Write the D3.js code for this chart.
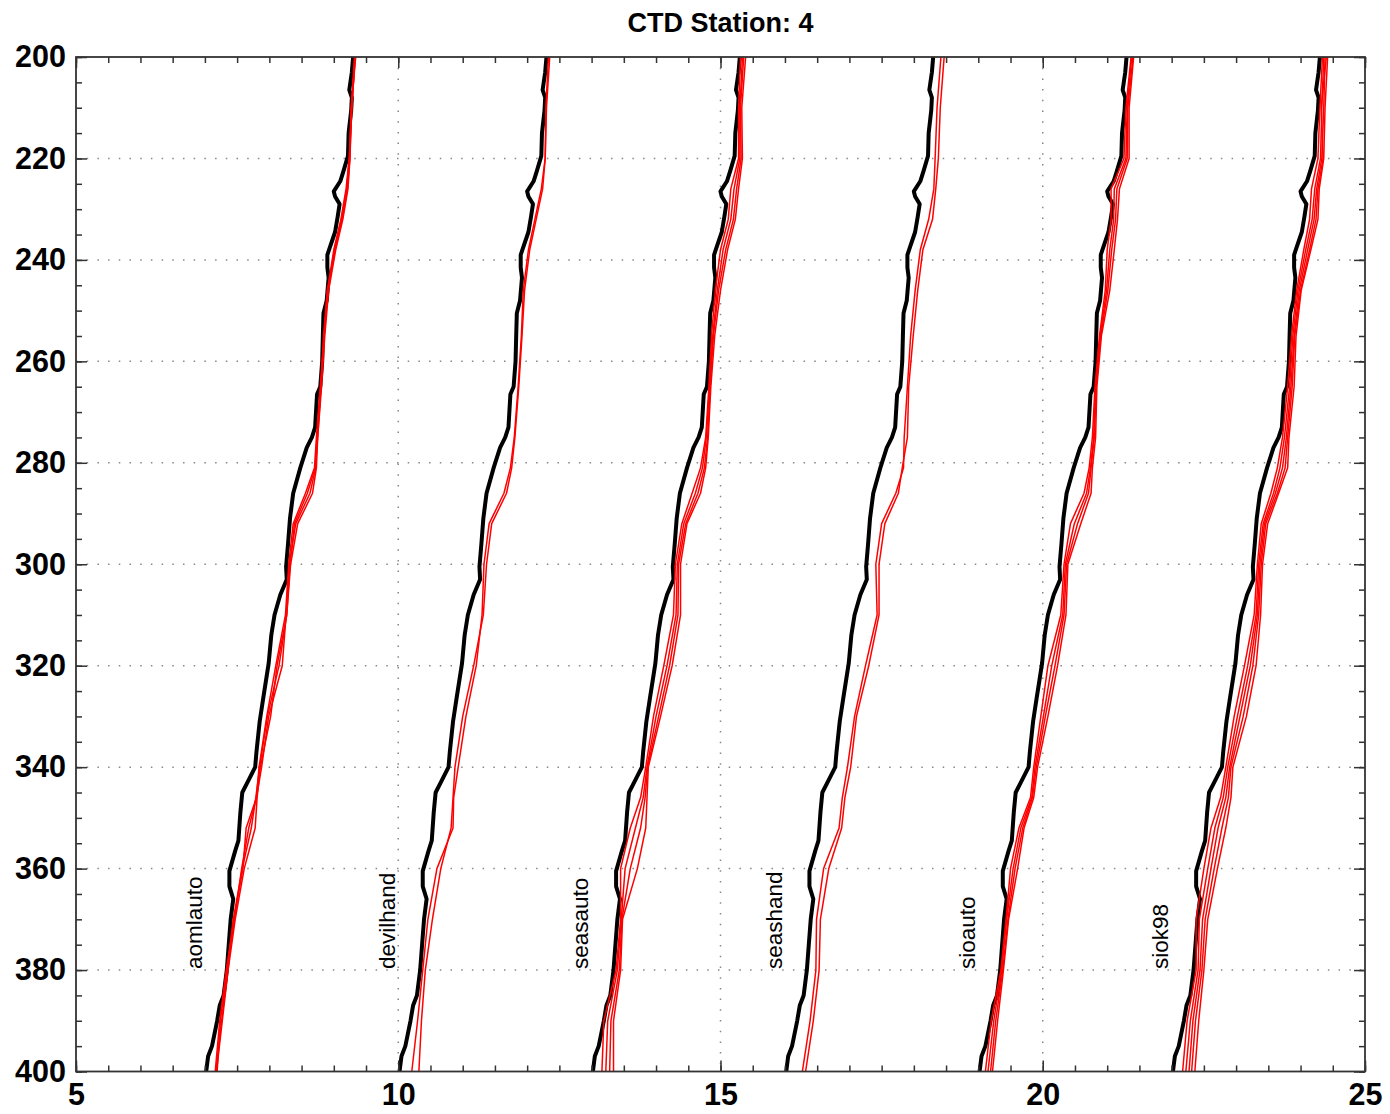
<!DOCTYPE html>
<html>
<head>
<meta charset="utf-8">
<script src="https://cdn.jsdelivr.net/npm/d3@7/dist/d3.min.js"></script>
<style>
  body { margin: 0; background: #fff; }
</style>
</head>
<body>
<div id="ctd_station"></div>
<script>
// CTD cast (depth in m, temperature in deg C) - same cast drawn in every panel
const ctdDepth = [200, 203, 206.5, 208, 210.5, 215, 219.5, 222.5, 224.5, 226.5,
    227.5, 229, 231.5, 234.5, 237.5, 239, 241.5, 243.5, 248, 250.5,
    255, 260, 265, 266.5, 273, 275, 277, 281, 286, 291,
    296, 300.5, 303, 306, 310, 314, 319.5, 326, 331, 337,
    340, 342.5, 345, 349, 354.5, 356.5, 360.5, 363.5, 366, 370,
    375, 380, 385, 387, 390, 395, 397, 400];
const ctdTemp = [9.30, 9.28, 9.24, 9.28, 9.27, 9.23, 9.22, 9.15, 9.10, 9.00,
    9.02, 9.09, 9.06, 9.02, 8.94, 8.90, 8.90, 8.92, 8.89, 8.84,
    8.83, 8.82, 8.79, 8.74, 8.71, 8.66, 8.58, 8.48, 8.37, 8.32,
    8.29, 8.26, 8.27, 8.17, 8.08, 8.03, 7.99, 7.91, 7.85, 7.80,
    7.78, 7.68, 7.58, 7.55, 7.52, 7.47, 7.38, 7.38, 7.44, 7.40,
    7.37, 7.34, 7.29, 7.23, 7.19, 7.11, 7.05, 7.02];

// XBT drops, sampled at these depths
const xbtDepth = [200, 210, 220, 226, 232, 238, 246, 255, 265, 275,
    281, 286, 292, 300, 310, 320, 330, 340, 346, 352,
    360, 370, 380, 390, 400];

const aomlauto = [
    [9.33, 9.28, 9.25, 9.22, 9.14, 9.03, 8.92, 8.86, 8.81, 8.75, 8.73, 8.67, 8.44, 8.33, 8.27, 8.12, 8.02, 7.86, 7.81, 7.78, 7.61, 7.47, 7.36, 7.27, 7.18],
    [9.34, 9.27, 9.24, 9.20, 9.12, 9.01, 8.91, 8.85, 8.80, 8.74, 8.72, 8.63, 8.41, 8.31, 8.26, 8.20, 7.99, 7.88, 7.80, 7.64, 7.59, 7.45, 7.35, 7.26, 7.17],
    [9.32, 9.27, 9.25, 9.21, 9.13, 9.02, 8.90, 8.84, 8.80, 8.75, 8.71, 8.59, 8.39, 8.32, 8.27, 8.15, 7.97, 7.85, 7.79, 7.72, 7.58, 7.44, 7.34, 7.24, 7.19],
    [9.33, 9.28, 9.24, 9.19, 9.11, 9.00, 8.90, 8.85, 8.79, 8.73, 8.70, 8.56, 8.37, 8.30, 8.25, 8.10, 7.96, 7.84, 7.80, 7.68, 7.57, 7.46, 7.33, 7.23, 7.16]
];
const devilhand = [
    [9.33, 9.29, 9.28, 9.22, 9.12, 9.02, 8.94, 8.91, 8.86, 8.80, 8.74, 8.64, 8.41, 8.33, 8.30, 8.21, 8.05, 7.93, 7.86, 7.85, 7.60, 7.46, 7.38, 7.30, 7.21],
    [9.35, 9.30, 9.28, 9.24, 9.14, 9.04, 8.96, 8.92, 8.87, 8.81, 8.76, 8.68, 8.45, 8.37, 8.32, 8.17, 8.00, 7.88, 7.85, 7.82, 7.66, 7.53, 7.42, 7.36, 7.32]
];
const seasauto = [
    [9.31, 9.28, 9.28, 9.16, 9.12, 9.00, 8.92, 8.86, 8.82, 8.77, 8.69, 8.56, 8.40, 8.30, 8.27, 8.12, 7.96, 7.84, 7.76, 7.60, 7.45, 7.45, 7.38, 7.19, 7.16],
    [9.34, 9.30, 9.30, 9.21, 9.16, 9.04, 8.95, 8.88, 8.83, 8.78, 8.72, 8.61, 8.43, 8.33, 8.31, 8.17, 8.00, 7.86, 7.80, 7.68, 7.52, 7.46, 7.40, 7.25, 7.22],
    [9.36, 9.31, 9.32, 9.25, 9.20, 9.08, 8.97, 8.89, 8.84, 8.80, 8.75, 8.65, 8.46, 8.35, 8.34, 8.21, 8.04, 7.87, 7.83, 7.76, 7.60, 7.47, 7.43, 7.30, 7.28],
    [9.39, 9.33, 9.34, 9.28, 9.23, 9.11, 9.00, 8.91, 8.85, 8.81, 8.77, 8.69, 8.48, 8.38, 8.38, 8.25, 8.07, 7.88, 7.86, 7.84, 7.71, 7.48, 7.45, 7.34, 7.34]
];
const seashand = [
    [9.42, 9.36, 9.33, 9.31, 9.23, 9.10, 9.02, 8.95, 8.90, 8.85, 8.84, 8.72, 8.50, 8.41, 8.43, 8.25, 8.08, 7.97, 7.89, 7.84, 7.60, 7.49, 7.48, 7.39, 7.27],
    [9.47, 9.41, 9.38, 9.34, 9.29, 9.14, 9.06, 8.99, 8.92, 8.90, 8.82, 8.76, 8.55, 8.46, 8.46, 8.30, 8.11, 8.02, 7.93, 7.88, 7.68, 7.55, 7.53, 7.44, 7.32]
];
const sioauto = [
    [9.37, 9.29, 9.26, 9.06, 9.06, 9.00, 8.97, 8.88, 8.81, 8.77, 8.72, 8.64, 8.43, 8.33, 8.28, 8.08, 7.97, 7.86, 7.81, 7.63, 7.50, 7.43, 7.35, 7.20, 7.11],
    [9.38, 9.31, 9.29, 9.11, 9.10, 9.04, 8.99, 8.89, 8.82, 8.79, 8.74, 8.68, 8.49, 8.35, 8.31, 8.14, 8.01, 7.88, 7.83, 7.66, 7.54, 7.44, 7.36, 7.24, 7.15],
    [9.40, 9.32, 9.31, 9.15, 9.13, 9.07, 9.01, 8.90, 8.83, 8.80, 8.75, 8.71, 8.54, 8.37, 8.33, 8.19, 8.04, 7.90, 7.84, 7.69, 7.57, 7.46, 7.38, 7.27, 7.19],
    [9.41, 9.34, 9.34, 9.19, 9.16, 9.11, 9.04, 8.91, 8.84, 8.82, 8.77, 8.75, 8.59, 8.39, 8.36, 8.23, 8.08, 7.92, 7.86, 7.71, 7.61, 7.47, 7.39, 7.30, 7.22]
];
const siok98 = [
    [9.34, 9.30, 9.27, 9.17, 9.14, 9.05, 8.94, 8.86, 8.80, 8.72, 8.64, 8.54, 8.39, 8.33, 8.28, 8.13, 7.97, 7.84, 7.76, 7.61, 7.50, 7.38, 7.38, 7.24, 7.17],
    [9.36, 9.33, 9.31, 9.22, 9.18, 9.08, 8.96, 8.88, 8.83, 8.75, 8.68, 8.58, 8.42, 8.35, 8.31, 8.18, 8.02, 7.87, 7.80, 7.67, 7.56, 7.43, 7.41, 7.29, 7.22],
    [9.38, 9.36, 9.33, 9.25, 9.21, 9.11, 8.98, 8.90, 8.85, 8.78, 8.72, 8.61, 8.44, 8.37, 8.33, 8.22, 8.06, 7.90, 7.84, 7.72, 7.61, 7.48, 7.44, 7.33, 7.27],
    [9.40, 9.32, 9.35, 9.27, 9.24, 9.14, 9.00, 8.91, 8.87, 8.80, 8.76, 8.64, 8.46, 8.39, 8.35, 8.26, 8.11, 7.92, 7.88, 7.78, 7.66, 7.52, 7.47, 7.37, 7.31],
    [9.42, 9.38, 9.36, 9.29, 9.27, 9.16, 9.01, 8.93, 8.90, 8.82, 8.80, 8.66, 8.49, 8.41, 8.38, 8.31, 8.16, 7.95, 7.92, 7.84, 7.71, 7.56, 7.50, 7.42, 7.36]
];

const probeNames = ["aomlauto", "devilhand", "seasauto", "seashand", "sioauto", "siok98"];
const probeOffset = [0, 3, 6, 9, 12, 15];
const probeTemps = [aomlauto, devilhand, seasauto, seashand, sioauto, siok98];

const xTicks = [5, 10, 15, 20, 25];
const yTicks = [200, 220, 240, 260, 280, 300, 320, 340, 360, 380, 400];

// Set up the dimensions
const margin = { top: 57, right: 25, bottom: 42.5, left: 76 };
const width = 1390 - margin.left - margin.right;
const height = 1114 - margin.top - margin.bottom;

const svg = d3.select("#ctd_station")
    .append("svg")
    .attr("width", 1390)
    .attr("height", 1114)
    .style("font-family", "'Liberation Sans', Arial, sans-serif");

svg.append("text")
    .attr("x", margin.left + width / 2)
    .attr("y", 32)
    .attr("text-anchor", "middle")
    .style("font-size", "27px")
    .style("font-weight", 700)
    .text("CTD Station: 4");

const g = svg.append("g")
    .attr("transform", `translate(${margin.left},${margin.top})`);

// Scales
const x = d3.scaleLinear().domain([5, 25]).range([0, width]);
const y = d3.scaleLinear().domain([200, 400]).range([0, height]);

// Dotted grid
const grid = g.append("g")
    .attr("stroke", "#888")
    .attr("stroke-width", 1.5)
    .attr("stroke-dasharray", "1.5 9.2");

grid.selectAll(".gx")
    .data(xTicks.slice(1, -1))
    .enter().append("line")
    .attr("x1", d => x(d)).attr("x2", d => x(d))
    .attr("y1", 0).attr("y2", height);

grid.selectAll(".gy")
    .data(yTicks.slice(1, -1))
    .enter().append("line")
    .attr("y1", d => y(d)).attr("y2", d => y(d))
    .attr("x1", 0).attr("x2", width);

// Profiles
const plot = g.append("g");

const ctdPoints = ctdDepth.map((d, i) => [ctdTemp[i], d]);

probeOffset.forEach((off, p) => {
    const line = d3.line()
        .x(d => x(d[0] + off))
        .y(d => y(d[1]));

    plot.append("path")
        .datum(ctdPoints)
        .attr("fill", "none")
        .attr("stroke", "#000")
        .attr("stroke-width", 4)
        .attr("stroke-linejoin", "round")
        .attr("d", line);

    probeTemps[p].forEach(temps => {
        plot.append("path")
            .datum(xbtDepth.map((d, i) => [temps[i], d]))
            .attr("fill", "none")
            .attr("stroke", "#ff0000")
            .attr("stroke-width", 1.5)
            .attr("stroke-linejoin", "round")
            .attr("d", line);
    });

    // probe name, rotated
    const lx = x(off + 6.95), ly = y(379.8);
    plot.append("text")
        .attr("transform", `translate(${lx},${ly}) rotate(-90)`)
        .style("font-size", "22.5px")
        .text(probeNames[p]);
});

// Axes: minor and major ticks, pointing inward on all four sides
const minorX = d3.range(5, 25.01, 0.5);
const minorY = d3.range(200, 400.01, 5);

function styleAxis(sel) {
    sel.select(".domain").remove();
    sel.selectAll("line").attr("stroke", "#333").attr("stroke-width", 1.5);
}

g.append("g")
    .attr("transform", `translate(0,${height})`)
    .call(d3.axisBottom(x).tickValues(minorX).tickSize(-6).tickFormat(""))
    .call(styleAxis);
g.append("g")
    .call(d3.axisTop(x).tickValues(minorX).tickSize(-6).tickFormat(""))
    .call(styleAxis);
g.append("g")
    .call(d3.axisLeft(y).tickValues(minorY).tickSize(-6).tickFormat(""))
    .call(styleAxis);
g.append("g")
    .attr("transform", `translate(${width},0)`)
    .call(d3.axisRight(y).tickValues(minorY).tickSize(-6).tickFormat(""))
    .call(styleAxis);

const xAxis = g.append("g")
    .attr("transform", `translate(0,${height})`)
    .call(d3.axisBottom(x).tickValues(xTicks).tickSize(-11).tickPadding(12).tickFormat(d3.format("d")))
    .call(styleAxis);
g.append("g")
    .call(d3.axisTop(x).tickValues(xTicks).tickSize(-11).tickFormat(""))
    .call(styleAxis);
const yAxis = g.append("g")
    .call(d3.axisLeft(y).tickValues(yTicks).tickSize(-11).tickPadding(10).tickFormat(d3.format("d")))
    .call(styleAxis);
g.append("g")
    .attr("transform", `translate(${width},0)`)
    .call(d3.axisRight(y).tickValues(yTicks).tickSize(-11).tickFormat(""))
    .call(styleAxis);

[xAxis, yAxis].forEach(a => a.selectAll("text")
    .attr("fill", "#000")
    .style("font-size", "30.5px")
    .style("font-weight", 700)
    .style("font-family", "'Liberation Sans', Arial, sans-serif"));

// Frame
g.append("rect")
    .attr("width", width)
    .attr("height", height)
    .attr("fill", "none")
    .attr("stroke", "#333")
    .attr("stroke-width", 1.8);
</script>
</body>
</html>
